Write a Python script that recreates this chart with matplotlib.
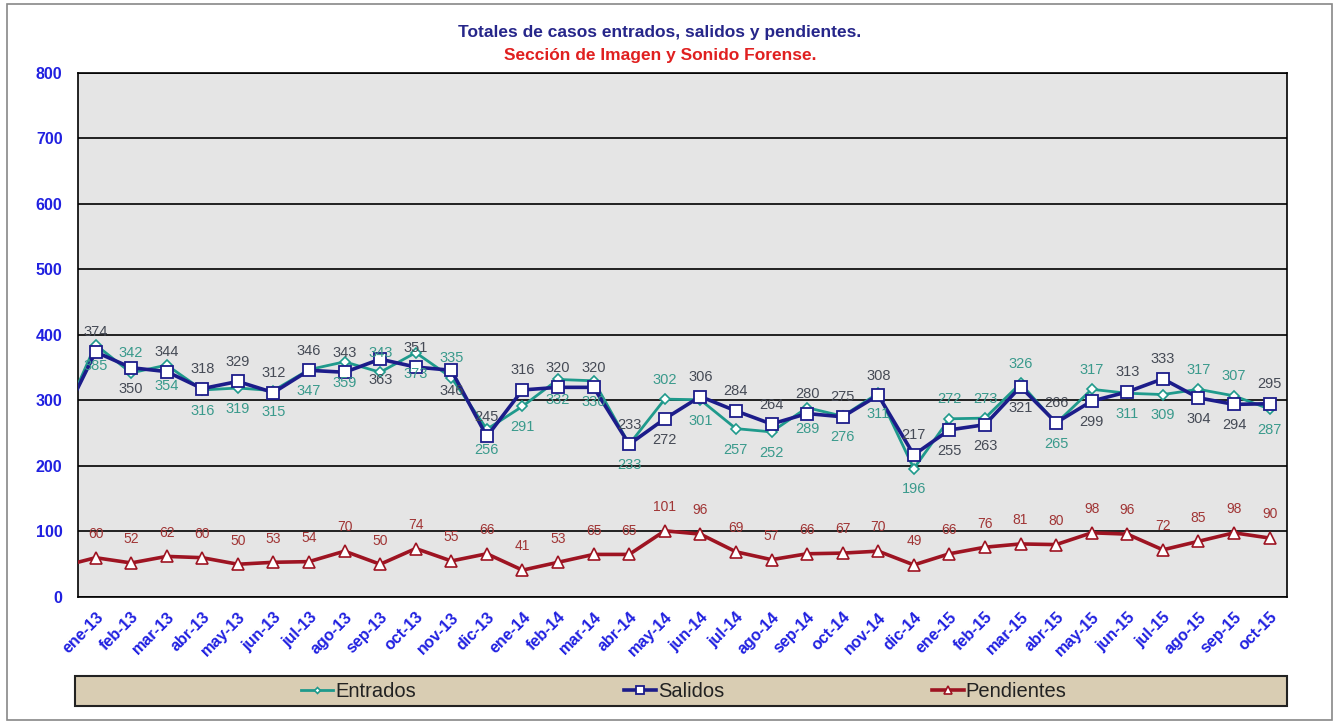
import numpy as np
import matplotlib.pyplot as plt
from matplotlib.patches import Rectangle

plt.rcParams['font.family'] = ['Liberation Sans', 'DejaVu Sans']

months = ['ene-13', 'feb-13', 'mar-13', 'abr-13', 'may-13', 'jun-13', 'jul-13', 'ago-13',
          'sep-13', 'oct-13', 'nov-13', 'dic-13', 'ene-14', 'feb-14', 'mar-14', 'abr-14',
          'may-14', 'jun-14', 'jul-14', 'ago-14', 'sep-14', 'oct-14', 'nov-14', 'dic-14',
          'ene-15', 'feb-15', 'mar-15', 'abr-15', 'may-15', 'jun-15', 'jul-15', 'ago-15',
          'sep-15', 'oct-15']

entrados = [385, 342, 354, 316, 319, 315, 347, 359, 343, 373, 335, 256, 291, 332, 330, 233,
            302, 301, 257, 252, 289, 276, 311, 196, 272, 273, 326, 265, 317, 311, 309, 317,
            307, 287]
salidos = [374, 350, 344, 318, 329, 312, 346, 343, 363, 351, 346, 245, 316, 320, 320, 233,
           272, 306, 284, 264, 280, 275, 308, 217, 255, 263, 321, 266, 299, 313, 333, 304,
           294, 295]
pendientes = [60, 52, 62, 60, 50, 53, 54, 70, 50, 74, 55, 66, 41, 53, 65, 65,
              101, 96, 69, 57, 66, 67, 70, 49, 66, 76, 81, 80, 98, 96, 72, 85,
              98, 90]

# previous month (dic-12), only visible as the line entering from the left edge
prev_entrados, prev_salidos, prev_pendientes = 262, 264, 46

# label placement for Entrados: True = above the point (Salidos takes the other side)
above_e = [False, True, False, False, False, False, False, False,
           True, False, True, False, False, False, False, False,
           True, False, False, False, False, False, False, False,
           True, True, True, False, True, False, False, True,
           True, False]

c_ent = '#1f9a8c'
c_sal = '#1c1c8a'
c_pen = '#9e1422'

fig = plt.figure(figsize=(13.41, 7.24), dpi=100)
fig.patches.append(Rectangle((0.005, 0.006), 0.988, 0.988, transform=fig.transFigure,
                             fill=False, edgecolor='#888888', lw=1.2))
ax = fig.add_axes([0.058, 0.1754, 0.902, 0.724])
ax.set_facecolor('#e5e5e5')

x = np.arange(len(months))
xe = np.concatenate([[-1], x])
every = list(range(1, len(xe)))

ax.plot(xe, [prev_entrados] + entrados, color=c_ent, lw=2, marker='D', ms=5,
        mfc='white', mec=c_ent, mew=1.2, label='Entrados', zorder=4, markevery=every)
ax.plot(xe, [prev_salidos] + salidos, color=c_sal, lw=2.6, marker='s', ms=9,
        mfc='white', mec=c_sal, mew=1.3, label='Salidos', zorder=5, markevery=every)
ax.plot(xe, [prev_pendientes] + pendientes, color=c_pen, lw=2.6, marker='^', ms=9,
        mfc='white', mec=c_pen, mew=1.2, label='Pendientes', zorder=4, markevery=every)

for i in x:
    dy = 9 if above_e[i] else -10
    ax.annotate(str(entrados[i]), (i, entrados[i]), xytext=(0, dy), textcoords='offset points',
                ha='center', va='bottom' if dy > 0 else 'top', fontsize=10.5, color='#3a9a8c', zorder=6)
    dy = -10 if above_e[i] else 9
    ax.annotate(str(salidos[i]), (i, salidos[i]), xytext=(0, dy), textcoords='offset points',
                ha='center', va='bottom' if dy > 0 else 'top', fontsize=10.5, color='#454a55', zorder=6)
    ax.annotate(str(pendientes[i]), (i, pendientes[i]), xytext=(0, 12), textcoords='offset points',
                ha='center', va='bottom', fontsize=10, color='#a03535', zorder=6)

ax.set_xlim(-0.5, len(months) - 0.5)
ax.set_ylim(0, 800)
ax.set_yticks(range(0, 801, 100))
ax.yaxis.grid(True, color='black', lw=1.2)
ax.set_axisbelow(True)
ax.set_xticks(x)
ax.set_xticklabels(months, rotation=45, ha='right', rotation_mode='anchor')
ax.tick_params(axis='both', length=0, labelsize=11.5, labelcolor='#2020e0')
ax.tick_params(axis='x', pad=9)
ax.tick_params(axis='y', pad=11)
for lab in ax.get_xticklabels() + ax.get_yticklabels():
    lab.set_fontweight('bold')
for s in ax.spines.values():
    s.set_color('black')
    s.set_linewidth(1.2)

fig.text(0.492, 0.955, 'Totales de casos entrados, salidos y pendientes.', ha='center', va='center',
         fontsize=12.5, fontweight='bold', color='#26268a')
fig.text(0.492, 0.924, 'Sección de Imagen y Sonido Forense.', ha='center', va='center',
         fontsize=12.5, fontweight='bold', color='#e02020')

# legend strip
fig.patches.append(Rectangle((0.056, 0.025), 0.904, 0.041, transform=fig.transFigure,
                             facecolor='#d9cdb3', edgecolor='#222222', lw=1.5, zorder=1))
leg = fig.legend(loc='center', bbox_to_anchor=(0.51, 0.0455), ncol=3, frameon=False,
                 fontsize=14.5, handlelength=1.6, handletextpad=0.1, columnspacing=10.3,
                 markerscale=0.6)
for t in leg.get_texts():
    t.set_color('#222222')

fig.savefig('out.png', dpi=100)
